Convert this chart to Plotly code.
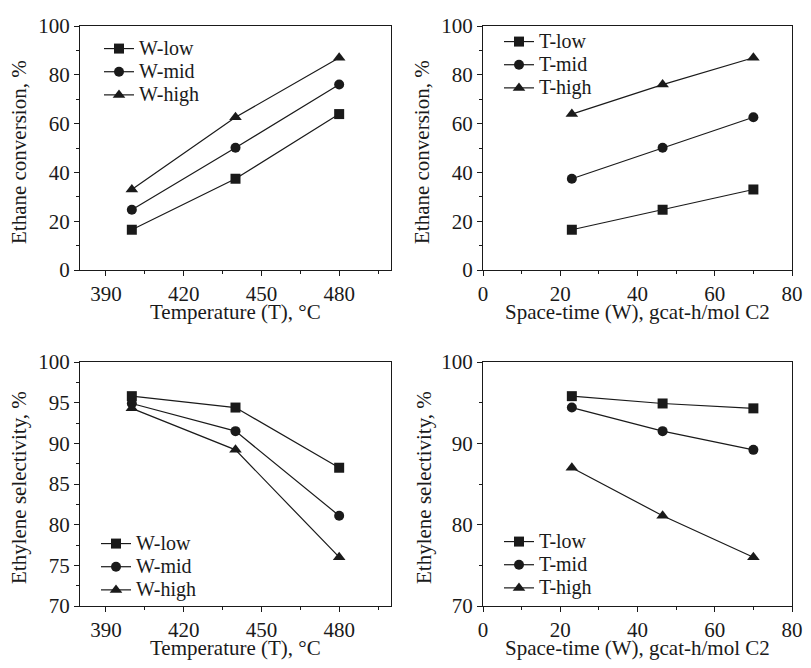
import plotly.graph_objects as go

# Browser page has an 8px body margin; figure is sized to fit the 811x668 window.
OFF = 8
W = 811 - 2 * OFF
H = 668 - 2 * OFF

# ---------------- data ----------------
temps = [400, 440, 480]
w_low_conv = [16.5, 37.4, 63.9]
w_mid_conv = [24.7, 50.1, 76.0]
w_high_conv = [33.0, 62.6, 87.0]

spacetime = [23, 46.5, 70]
t_low_conv = [16.5, 24.7, 33.0]
t_mid_conv = [37.4, 50.1, 62.6]
t_high_conv = [63.9, 76.0, 87.0]

w_low_sel = [95.8, 94.4, 87.0]
w_mid_sel = [94.9, 91.5, 81.1]
w_high_sel = [94.3, 89.2, 76.0]

t_low_sel = [95.8, 94.9, 94.3]
t_mid_sel = [94.4, 91.5, 89.2]
t_high_sel = [87.0, 81.1, 76.0]

w_names = ["W-low", "W-mid", "W-high"]
t_names = ["T-low", "T-mid", "T-high"]
symbols = ["square", "circle", "triangle-up"]

x_title_T = "Temperature (T), °C"
x_title_W = "Space-time (W), gcat-h/mol C2"
y_title_conv = "Ethane conversion, %"
y_title_sel = "Ethylene selectivity, %"

FONT = "Liberation Serif, Times New Roman, serif"
INK = "#1a1a1a"

fig = go.Figure()

panels = [
    ("x", "y", temps, [w_low_conv, w_mid_conv, w_high_conv], w_names, "legend"),
    ("x2", "y2", spacetime, [t_low_conv, t_mid_conv, t_high_conv], t_names, "legend2"),
    ("x3", "y3", temps, [w_low_sel, w_mid_sel, w_high_sel], w_names, "legend3"),
    ("x4", "y4", spacetime, [t_low_sel, t_mid_sel, t_high_sel], t_names, "legend4"),
]

for xa, ya, xs, series, names, leg in panels:
    for vals, nm, sym in zip(series, names, symbols):
        fig.add_trace(go.Scatter(
            x=xs, y=vals,
            name="<span style='font-size:20px'>" + nm + "</span>",
            xaxis=xa, yaxis=ya, legend=leg,
            mode="lines+markers",
            line=dict(color=INK, width=1.2),
            marker=dict(symbol=sym, size=10 if sym != "triangle-up" else 11, color=INK),
        ))


def px_x(p):
    return (p - OFF) / W


def px_y(p):
    return 1 - (p - OFF) / H


def axis(dom, rng, dtick, tick0, minor, anchor):
    return dict(
        domain=dom, range=rng, dtick=dtick, tick0=tick0, anchor=anchor,
        showline=True, mirror=True, linecolor=INK, linewidth=1,
        ticks="outside", ticklen=5, tickwidth=1, tickcolor=INK,
        minor=dict(dtick=minor, tick0=tick0, ticks="outside", ticklen=3, tickwidth=1, tickcolor=INK, showgrid=False),
        showgrid=False, zeroline=False,
        tickfont=dict(family=FONT, size=21, color=INK),
        automargin=False,
    )


L0, L1 = 80, 391
R0, R1 = 483, 792
T0, T1 = 26, 270
B0, B1 = 362, 606

xl = [px_x(L0), px_x(L1)]
xr = [px_x(R0), px_x(R1)]
yt = [px_y(T1), px_y(T0)]
yb = [px_y(B1), px_y(B0)]

legend_common = dict(
    bgcolor="rgba(0,0,0,0)", borderwidth=0,
    font=dict(family=FONT, size=15.5, color=INK),
    xanchor="left", yanchor="top", tracegroupgap=0,
)

title_font = dict(family=FONT, size=21, color=INK)
annotations = []
# x-axis titles (baseline ~49px under the axis line, kept inside the page)
for cx, ax_bottom, txt in [((L0 + L1) / 2, T1, x_title_T), ((R0 + R1) / 2, T1, x_title_W),
                           ((L0 + L1) / 2, B1, x_title_T), ((R0 + R1) / 2, B1, x_title_W)]:
    base = min(ax_bottom + 49, 655)
    annotations.append(dict(
        text=txt, xref="paper", yref="paper", x=px_x(cx), y=px_y(base - 7), xanchor="center",
        yanchor="middle", showarrow=False, font=title_font,
    ))
# y-axis titles (rotated, baseline ~54px left of the axis line)
for lx, c0, c1, txt in [(L0, T0, T1, y_title_conv), (R0, T0, T1, y_title_conv),
                        (L0, B0, B1, y_title_sel), (R0 + 2, B0, B1, y_title_sel)]:
    annotations.append(dict(
        text=txt, xref="paper", yref="paper", x=px_x(lx - 61), y=px_y((c0 + c1) / 2 + 4),
        xanchor="center", yanchor="middle", textangle=-90, showarrow=False, font=title_font,
    ))

fig.update_layout(
    width=W, height=H,
    margin=dict(l=0, r=0, t=0, b=0),
    paper_bgcolor="white", plot_bgcolor="white",
    font=dict(family=FONT, color=INK),
    xaxis=axis(xl, [380, 500], 30, 390, 15, "y"),
    yaxis=axis(yt, [0, 100], 20, 0, 10, "x"),
    xaxis2=axis(xr, [0, 80], 20, 0, 10, "y2"),
    yaxis2=axis(yt, [0, 100], 20, 0, 10, "x2"),
    xaxis3=axis(xl, [380, 500], 30, 390, 15, "y3"),
    yaxis3=axis(yb, [70, 100], 5, 70, 2.5, "x3"),
    xaxis4=axis(xr, [0, 80], 20, 0, 10, "y4"),
    yaxis4=axis(yb, [70, 100], 10, 70, 5, "x4"),
    legend=dict(x=px_x(99), y=px_y(32), **legend_common),
    legend2=dict(x=px_x(R0 + 16), y=px_y(25), **legend_common),
    legend3=dict(x=px_x(96), y=px_y(527), **legend_common),
    legend4=dict(x=px_x(R0 + 16), y=px_y(525), **legend_common),
    annotations=annotations,
    showlegend=True,
)

fig.write_html("out.html")
